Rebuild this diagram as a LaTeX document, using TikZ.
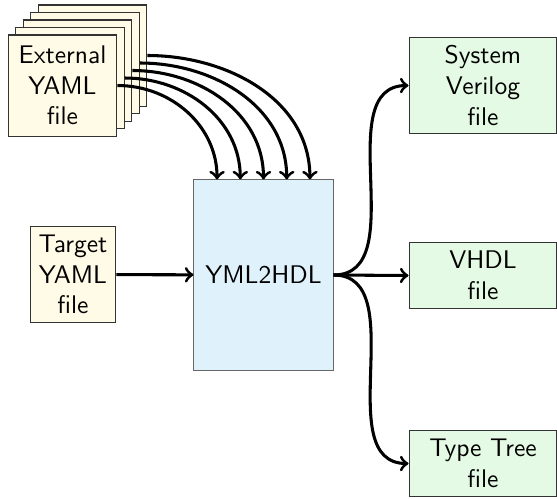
\documentclass[tikz,border=0pt]{standalone}
\usepackage{tikz}
\usetikzlibrary{positioning}
\usetikzlibrary{arrows}
\definecolor{yamlfill}{RGB}{255,251,230}
\definecolor{toolfill}{RGB}{223,241,250}
\definecolor{outfill}{RGB}{228,250,228}

\tikzset{
    yamlfile/.style={draw=black!80, fill=yamlfill, align=center, font=\sffamily, inner sep=3.3pt},
    extfile/.style={yamlfile, minimum width=42.7pt, minimum height=39.6pt},
    toolbox/.style={draw=black!60, fill=toolfill, font=\sffamily, minimum width=54.5pt, minimum height=74.5pt},
    outfile/.style={draw=black!80, fill=outfill, align=center, font=\sffamily, minimum width=58pt, inner sep=3.3pt},
    flow/.style={->, very thick}
}

\begin{document}
\begin{tikzpicture}[x=0.392pt, y=-0.392pt]
    \useasboundingbox (0,0) rectangle (557,498);
    % stack of external files, back to front
    \foreach \i in {4,3,2,1} {
        \node[extfile] (ext\i) at ({62.5+7.5*\i}, {85.5-7.5*\i}) {};
    }
    \node[extfile] (ext0) at (62.5, 85.5) {External\\YAML\\file};
    \node[yamlfile] (target) at (73, 274.5) {Target\\YAML\\file};
    \node[toolbox] (yml) at (263.5, 275) {YML2HDL};

    \node[outfile] (sv) at (483, 85.5) {System\\Verilog\\file};
    \node[outfile] (vhdl) at (483, 275.5) {VHDL\\file};
    \node[outfile] (tree) at (483, 463.5) {Type Tree\\file};

    \foreach \i in {0,1,2,3,4} {
        \draw[flow] (ext\i.east) to[out=0, in=90] ([xshift={(\i-2)*9.1pt}]yml.north);
    }
    \draw[flow] (target) -- (yml);
    \draw[flow] (yml.east) to[out=0, in=180] (sv.west);
    \draw[flow] (yml.east) -- (vhdl.west);
    \draw[flow] (yml.east) to[out=0, in=180] (tree.west);
\end{tikzpicture}
\end{document}
